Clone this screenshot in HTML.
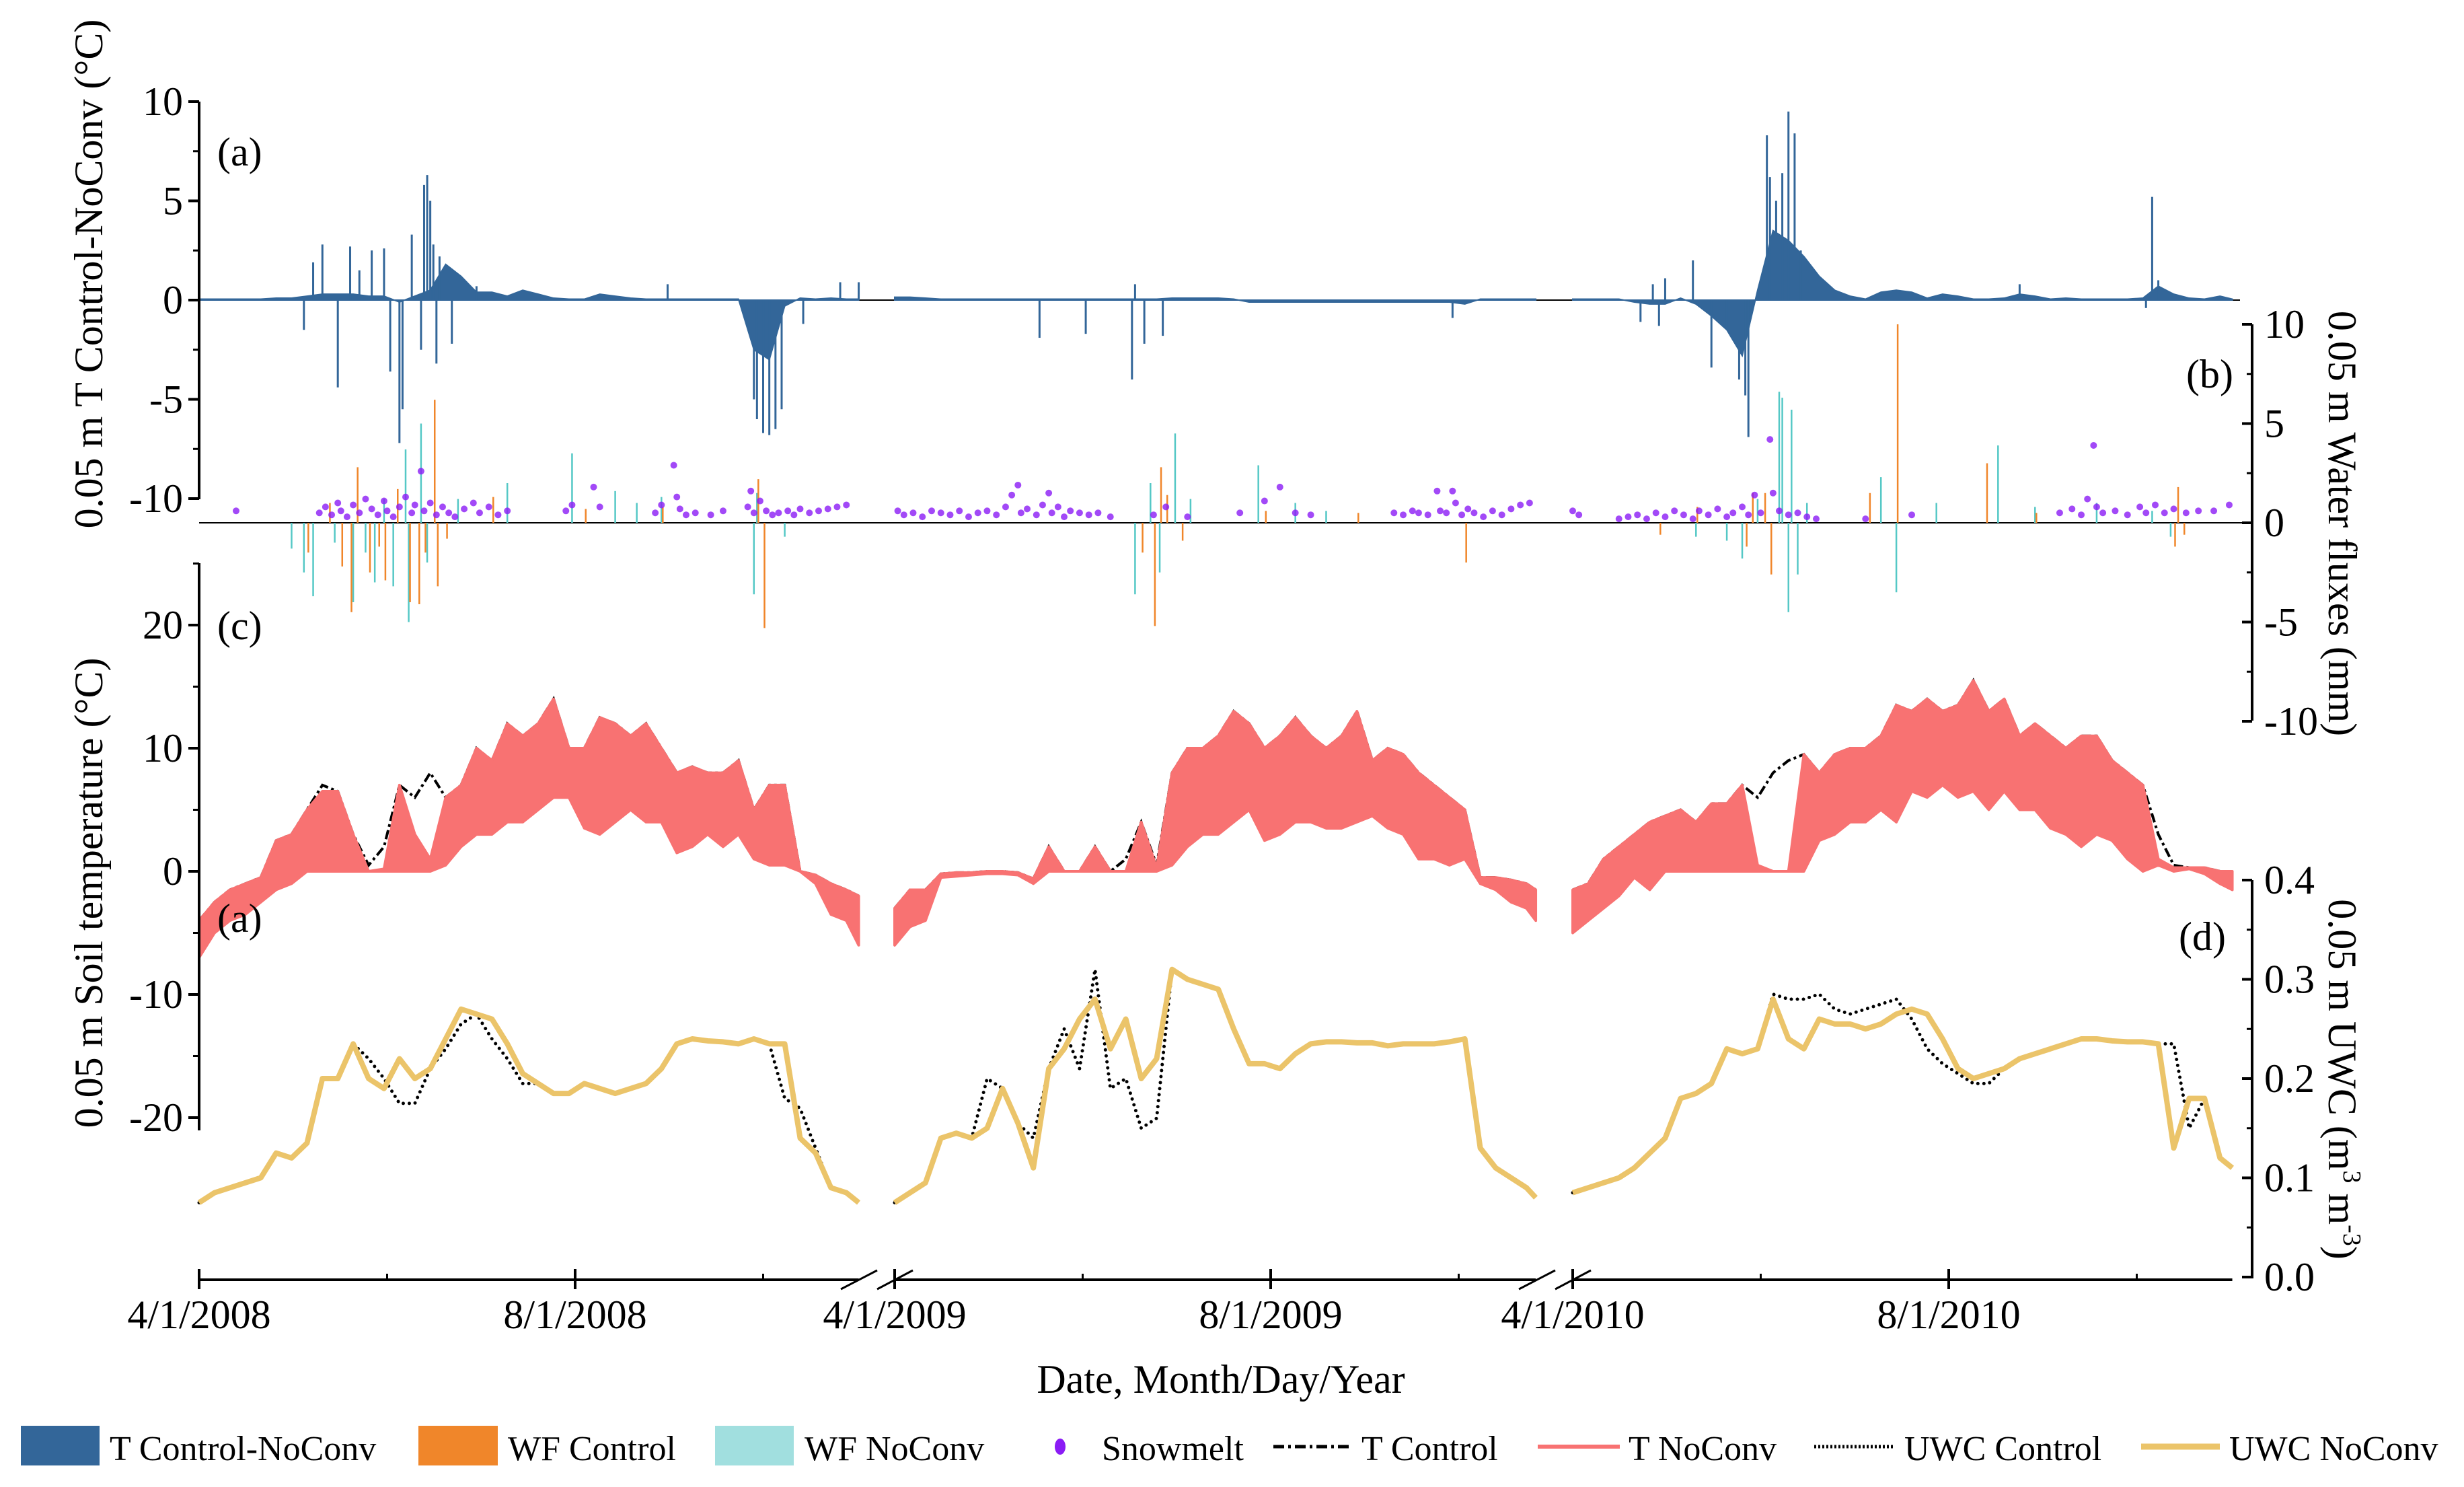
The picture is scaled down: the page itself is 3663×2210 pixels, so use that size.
<!DOCTYPE html>
<html><head><meta charset="utf-8">
<style>
html,body{margin:0;padding:0;background:#fff;}
svg{display:block;}
svg text{font-family:"Liberation Serif","DejaVu Serif",serif;}
</style></head>
<body>
<svg id="chart" xmlns="http://www.w3.org/2000/svg" width="3663" height="2210" viewBox="0 0 3663 2210" font-family="Liberation Serif, serif">
<rect x="0" y="0" width="3663" height="2210" fill="#fff"/>
<g id="marks"></g>
<g id="axes" stroke="#000" stroke-width="4" fill="none"></g>
<g id="labels" font-size="60" fill="#000"></g>
<text x="323" y="246" font-size="60">(a)</text>
<text x="3250" y="576" font-size="60">(b)</text>
<text x="323" y="950" font-size="60">(c)</text>
<text x="323" y="1385" font-size="60">(a)</text>
<text x="3239" y="1412" font-size="60">(d)</text>
<text transform="translate(152,407) rotate(-90)" text-anchor="middle" font-size="60">0.05 m T Control-NoConv (°C)</text>
<text transform="translate(152,1327) rotate(-90)" text-anchor="middle" font-size="60">0.05 m Soil temperature (°C)</text>
<text transform="translate(3462,778) rotate(90)" text-anchor="middle" font-size="60">0.05 m Water fluxes (mm)</text>
<text transform="translate(3462,1604) rotate(90)" text-anchor="middle" font-size="60">0.05 m UWC (m<tspan dy="-22" font-size="38">3</tspan><tspan dy="22"> m</tspan><tspan dy="-22" font-size="38">-3</tspan><tspan dy="22">)</tspan></text>
<text x="1815" y="2070" text-anchor="middle" font-size="60">Date, Month/Day/Year</text>
<g font-size="52">
 <g><rect x="31" y="2119" width="117" height="59" fill="#336699"/><text x="163" y="2170">T Control-NoConv</text></g>
 <g><rect x="622" y="2119" width="118" height="59" fill="#f0862a"/><text x="755" y="2170">WF Control</text></g>
 <g><rect x="1063" y="2119" width="117" height="59" fill="#a1dfdf"/><text x="1196" y="2170">WF NoConv</text></g>
 <g><ellipse cx="1576" cy="2150" rx="8" ry="12" fill="#8b1cf5"/><text x="1638" y="2170">Snowmelt</text></g>
 <g><line x1="1893" y1="2150" x2="2010" y2="2150" stroke="#000" stroke-width="5" stroke-dasharray="16 6 4 6"/><text x="2024" y="2170">T Control</text></g>
 <g><line x1="2286" y1="2150" x2="2408" y2="2150" stroke="#f87272" stroke-width="6"/><text x="2421" y="2170">T NoConv</text></g>
 <g><line x1="2697" y1="2150" x2="2817" y2="2150" stroke="#000" stroke-width="5" stroke-dasharray="3 3"/><text x="2831" y="2170">UWC Control</text></g>
 <g><line x1="3183" y1="2150" x2="3300" y2="2150" stroke="#ebc46a" stroke-width="9"/><text x="3314" y="2170">UWC NoConv</text></g>
</g>
</svg>
<script>
// ---------- DATA ----------
const days08=[0,5,10,15,20,25,30,35,40,45,50,55,60,65,70,75,80,85,90,95,100,105,110,115,120,125,130,135,140,145,150,155,160,165,170,175,180,185,190,195,200,205,210,214];
const days09=[0,5,10,15,20,25,30,35,40,45,50,55,60,65,70,75,80,85,90,95,100,105,110,115,120,125,130,135,140,145,150,155,160,165,170,175,180,185,190,195,200,205,208];
const days10=[0,5,10,15,20,25,30,35,40,45,50,55,60,65,70,75,80,85,90,95,100,105,110,115,120,125,130,135,140,145,150,155,160,165,170,175,180,185,190,195,200,205,210,214];
const xTickLabels=["4/1/2008","8/1/2008","4/1/2009","8/1/2009","4/1/2010","8/1/2010"];
const diffTicks=[10,5,0,-5,-10];
const fluxTicks=[10,5,0,-5,-10];
const tempTicks=[20,10,0,-10,-20];
const uwcTicks=[0.4,0.3,0.2,0.1,0.0];

const tMax08=[-4,-2.5,-1.5,-1,-0.5,2.5,3,5,6.5,6.5,3,0,0.2,7,3,1,6,7,10,9,12,11,12,14,10,10,12.5,12,11,12,10,8,8.5,8,8,9,5,7,7,0,-0.3,-1,-1.5,-2];
const tMin08=[-7,-5,-4,-3.5,-2.5,-1.5,-1,0,0,0,0,0,0,0,0,0,0.5,2,3,3,4,4,5,6,6,3.5,3,4,5,4,4,1.5,2,3,2,3,1,0.5,0.5,0,-1,-3.5,-4,-6];
const tCtrlMax08=[-4,-2.5,-1.5,-1,-0.5,2.5,3,5,7,6.5,3,0.5,2,7,6,8,6,7,10,9,12,11,12,14,10,10,12.5,12,11,12,10,8,8.5,8,8,9,5,7,7,0,-0.3,-1,-1.5,-2];
const tMax09=[-3,-1.5,-1.5,-0.2,-0.1,-0.1,0,0,-0.1,-0.6,2,0,0,2,0,0,4,0.3,8,10,10,11,13,12,10,11,12.5,11,10,11,13,9,10,9.5,8,7,6,5,-0.5,-0.5,-0.7,-1,-1.5];
const tMin09=[-6,-4.5,-4,-0.5,-0.4,-0.3,-0.2,-0.2,-0.3,-1,0,0,0,0,0,0,0,0,0.5,2,3,3,4,5,2.5,3,4,4,3.5,3.5,4,4.5,3.5,3,1,1,0.5,1,-1,-1.5,-2.5,-3,-4];
const tCtrlMax09=[-3,-1.5,-1.5,-0.2,-0.1,-0.1,0,0,-0.1,-0.6,2,0,0,2,0,1,4,0.5,8,10,10,11,13,12,10,11,12.5,11,10,11,13,9,10,9.5,8,7,6,5,-0.5,-0.5,-0.7,-1,-1.5];
const tMax10=[-1.5,-1,1,2,3,4,4.5,5,4,5.5,5.5,7,0.5,0,0,9.5,8,9.5,10,10,11,13.5,13,14,13,13.5,15.5,13,14,11,12,11,10,11,11,9,8,7,1,0.3,0.3,0.3,0,0];
const tMin10=[-5,-4,-3,-2,-0.5,-1.5,0,0,0,0,0,0,0,0,0,0,2.5,3,4,4,5,4,6.5,6,7,6,6.5,5,6.5,5,5,3.5,3,2,3,2.5,1,0,0.5,0,0.2,-0.2,-1,-1.5];
const tCtrlMax10=[-1.5,-1,1,2,3,4,4.5,5,4,5.5,5.5,7,6,8,9,9.5,8,9.5,10,10,11,13.5,13,14,13,13.5,15.5,13,14,11,12,11,10,11,11,9,8,7,3,0.5,0.3,0.3,0,0];

const uwcNo08=[0.075,0.085,0.09,0.095,0.10,0.125,0.12,0.135,0.20,0.20,0.235,0.20,0.19,0.22,0.20,0.21,0.24,0.27,0.265,0.26,0.235,0.205,0.195,0.185,0.185,0.195,0.19,0.185,0.19,0.195,0.21,0.235,0.24,0.238,0.237,0.235,0.24,0.235,0.235,0.14,0.125,0.09,0.085,0.075];
const uwcCtrl08=[0.075,0.085,0.09,0.095,0.10,0.125,0.12,0.135,0.20,0.20,0.235,0.22,0.20,0.175,0.175,0.21,0.23,0.255,0.265,0.24,0.22,0.195,0.195,0.185,0.185,0.195,0.19,0.185,0.19,0.195,0.21,0.235,0.24,0.238,0.237,0.235,0.24,0.235,0.18,0.17,0.13,0.09,0.085,0.075];
const uwcNo09=[0.075,0.085,0.095,0.14,0.145,0.14,0.15,0.19,0.155,0.11,0.21,0.23,0.26,0.28,0.23,0.26,0.2,0.22,0.31,0.30,0.295,0.29,0.25,0.215,0.215,0.21,0.225,0.235,0.237,0.237,0.236,0.236,0.233,0.235,0.235,0.235,0.237,0.24,0.13,0.11,0.10,0.09,0.08];
const uwcCtrl09=[0.075,0.085,0.095,0.14,0.145,0.14,0.20,0.19,0.155,0.14,0.21,0.25,0.21,0.31,0.19,0.20,0.15,0.16,0.31,0.30,0.295,0.29,0.25,0.215,0.215,0.21,0.225,0.235,0.237,0.237,0.236,0.236,0.233,0.235,0.235,0.235,0.237,0.24,0.13,0.11,0.10,0.09,0.08];
const uwcNo10=[0.085,0.09,0.095,0.10,0.11,0.125,0.14,0.18,0.185,0.195,0.23,0.225,0.23,0.28,0.24,0.23,0.26,0.255,0.255,0.25,0.255,0.265,0.27,0.265,0.24,0.21,0.20,0.205,0.21,0.22,0.225,0.23,0.235,0.24,0.24,0.238,0.237,0.237,0.235,0.13,0.18,0.18,0.12,0.11];
const uwcCtrl10=[0.085,0.09,0.095,0.10,0.11,0.125,0.14,0.18,0.185,0.195,0.23,0.225,0.23,0.285,0.28,0.28,0.285,0.27,0.265,0.27,0.275,0.28,0.26,0.23,0.215,0.205,0.195,0.195,0.21,0.22,0.225,0.23,0.235,0.24,0.24,0.238,0.237,0.237,0.235,0.235,0.15,0.18,0.12,0.11];

const diffBase08=[0.05,0.05,0.05,0.05,0.05,0.1,0.1,0.2,0.3,0.3,0.3,0.2,0.2,-0.1,0.2,0.5,1.8,1.2,0.4,0.4,0.2,0.5,0.3,0.1,0.05,0.05,0.3,0.2,0.1,0.05,0.05,0.05,0.05,0.05,0.05,0.05,-2.5,-3,-0.3,0.1,0.05,0.1,0.05,0.05];
const diffBase09=[0.15,0.15,0.1,0.05,0.05,0.05,0.05,0.05,0.05,0.05,0.05,0.05,0.05,0.05,0.05,0.05,0.05,0.05,0.1,0.1,0.1,0.1,0.05,-0.1,-0.1,-0.1,-0.1,-0.1,-0.1,-0.1,-0.1,-0.1,-0.1,-0.1,-0.1,-0.1,-0.1,-0.2,0.05,0.05,0.05,0.05,0.05];
const diffBase10=[0.05,0.05,0.05,0.05,-0.1,-0.2,-0.2,0.1,-0.2,-0.8,-1.5,-2.8,0.5,3.5,3,2.2,1.2,0.5,0.2,0.05,0.4,0.5,0.4,0.1,0.3,0.2,0.05,0.05,0.1,0.3,0.2,0.05,0.1,0.05,0.05,0.05,0.05,0.1,0.7,0.3,0.1,0.05,0.2,0.05];
const diffSpikes=[[0,34,-1.5],[0,37,1.9],[0,40,2.8],[0,45,-4.4],[0,49,2.7],[0,52,1.5],[0,56,2.5],[0,60,2.6],[0,62,-3.6],[0,65,-7.2],[0,66,-5.5],[0,69,3.3],[0,72,-2.5],[0,73,5.8],[0,74,6.3],[0,75,5.0],[0,76,2.8],[0,77,-3.2],[0,78,2.2],[0,80,1.5],[0,82,-2.2],[0,90,0.7],[0,152,0.8],[0,180,-5.0],[0,181,-6.0],[0,183,-6.7],[0,185,-6.8],[0,187,-6.5],[0,189,-5.5],[0,196,-1.2],[0,208,0.9],[0,214,0.9],
[1,47,-1.9],[1,62,-1.7],[1,77,-4.0],[1,78,0.8],[1,81,-2.2],[1,87,-1.8],[1,181,-0.9],
[2,22,-1.1],[2,26,0.8],[2,28,-1.3],[2,30,1.1],[2,39,2.0],[2,45,-3.4],[2,50,-1.4],[2,54,-4.0],[2,56,-4.8],[2,57,-6.9],[2,63,8.3],[2,64,6.2],[2,66,5.0],[2,68,6.4],[2,70,9.5],[2,72,8.4],[2,74,2.5],[2,145,0.8],[2,186,-0.4],[2,188,5.2],[2,190,1.0]];

const wfCtrl=[[0,35,-1.5],[0,42,1.0],[0,46,-2.2],[0,49,-4.5],[0,51,2.8],[0,55,-2.5],[0,58,-1.2],[0,60,-2.9],[0,64,1.7],[0,68,-4.0],[0,71,-4.1],[0,73,-1.5],[0,76,6.2],[0,77,-3.2],[0,80,-0.8],[0,95,1.3],[0,125,0.7],[0,150,0.8],[0,181,2.2],[0,183,-5.3],
[1,80,-1.5],[1,84,-5.2],[1,86,2.8],[1,88,1.4],[1,93,-0.9],[1,120,0.6],[1,150,0.5],[1,185,-2.0],
[2,28,-0.6],[2,40,0.8],[2,56,-1.2],[2,58,1.5],[2,62,1.5],[2,64,-2.6],[2,96,1.5],[2,105,10],[2,134,3.0],[2,150,0.5],[2,195,-1.2],[2,196,1.8],[2,198,-0.6]];
const wfNo=[[0,30,-1.3],[0,34,-2.5],[0,37,-3.7],[0,44,-1.0],[0,50,-4.0],[0,54,-1.5],[0,57,-3.0],[0,60,1.2],[0,63,-3.2],[0,67,3.7],[0,68,-5.0],[0,72,5.0],[0,74,-2.0],[0,84,1.2],[0,100,2.0],[0,121,3.5],[0,135,1.6],[0,142,1.0],[0,150,1.3],[0,180,-3.6],[0,181,1.5],[0,190,-0.7],
[1,78,-3.6],[1,83,2.0],[1,86,-2.5],[1,91,4.5],[1,96,1.2],[1,118,2.9],[1,130,1.0],[1,140,0.6],
[2,40,-0.7],[2,50,-0.9],[2,55,-1.8],[2,60,1.2],[2,67,6.6],[2,68,6.3],[2,70,-4.5],[2,71,5.7],[2,73,-2.6],[2,76,1.0],[2,100,2.3],[2,105,-3.5],[2,118,1.0],[2,138,3.9],[2,150,0.8],[2,170,1.0],[2,188,0.6],[2,194,-0.7]];
const snowmelt=[[0,12,0.6],[0,39,0.5],[0,41,0.8],[0,43,0.4],[0,45,1.0],[0,46,0.6],[0,48,0.3],[0,50,0.9],[0,52,0.5],[0,54,1.2],[0,56,0.7],[0,58,0.4],[0,60,1.1],[0,61,0.6],[0,63,0.3],[0,65,0.8],[0,67,1.3],[0,69,0.5],[0,70,0.9],[0,72,2.6],[0,73,0.6],[0,75,1.0],[0,77,0.4],[0,79,0.8],[0,81,0.5],[0,83,0.3],[0,86,0.7],[0,89,1.0],[0,91,0.5],[0,94,0.8],[0,97,0.4],[0,100,0.6],[0,119,0.6],[0,121,0.9],[0,128,1.8],[0,130,0.8],[0,148,0.5],[0,150,0.9],[0,154,2.9],[0,155,1.3],[0,156,0.7],[0,158,0.4],[0,161,0.5],[0,166,0.4],[0,170,0.6],[0,178,0.8],[0,179,1.6],[0,180,0.5],[0,182,1.1],[0,184,0.6],[0,186,0.4],[0,188,0.5],[0,191,0.6],[0,193,0.4],[0,195,0.7],[0,198,0.5],[0,201,0.6],[0,204,0.7],[0,207,0.8],[0,210,0.9],
[1,1,0.6],[1,3,0.4],[1,6,0.5],[1,9,0.3],[1,12,0.6],[1,15,0.5],[1,18,0.4],[1,21,0.6],[1,24,0.3],[1,27,0.5],[1,30,0.6],[1,33,0.4],[1,36,0.8],[1,38,1.4],[1,40,1.9],[1,41,0.5],[1,43,0.7],[1,46,0.4],[1,48,0.9],[1,50,1.5],[1,51,0.5],[1,53,0.8],[1,55,0.3],[1,57,0.6],[1,60,0.5],[1,63,0.4],[1,66,0.5],[1,70,0.3],[1,84,0.4],[1,88,0.8],[1,95,0.3],[1,112,0.5],[1,120,1.1],[1,125,1.8],[1,130,0.5],[1,135,0.4],[1,162,0.5],[1,165,0.4],[1,168,0.6],[1,170,0.5],[1,173,0.4],[1,176,1.6],[1,177,0.6],[1,179,0.5],[1,181,1.6],[1,182,1.0],[1,184,0.4],[1,186,0.7],[1,188,0.5],[1,191,0.3],[1,194,0.6],[1,197,0.4],[1,200,0.7],[1,203,0.9],[1,206,1.0],
[2,0,0.6],[2,2,0.4],[2,15,0.2],[2,18,0.3],[2,21,0.4],[2,24,0.2],[2,27,0.5],[2,30,0.3],[2,33,0.6],[2,36,0.4],[2,39,0.2],[2,41,0.6],[2,44,0.4],[2,47,0.7],[2,50,0.3],[2,52,0.5],[2,55,0.8],[2,57,0.4],[2,59,1.4],[2,61,0.5],[2,64,4.2],[2,65,1.5],[2,67,0.6],[2,70,0.4],[2,73,0.5],[2,76,0.3],[2,79,0.2],[2,95,0.2],[2,110,0.4],[2,158,0.5],[2,162,0.7],[2,165,0.4],[2,167,1.2],[2,169,3.9],[2,170,0.8],[2,172,0.5],[2,176,0.6],[2,180,0.4],[2,184,0.8],[2,186,0.5],[2,189,0.9],[2,192,0.5],[2,195,0.7],[2,199,0.5],[2,203,0.6],[2,208,0.6],[2,213,0.9]];

// ---------- SCALES ----------
const SEG_X0=[296,1330,2338], PX_DAY=4.582;
function xOf(seg,day){return SEG_X0[seg]+day*PX_DAY;}
function yDiff(v){return 446-v*29.5;}
function yFlux(v){return 777-v*29.5;}
function yTemp(v){return 1295-v*18.3;}
function yUwc(v){return 1898-v*1475;}

const NS="http://www.w3.org/2000/svg";
const marks=document.getElementById('marks');
const axes=document.getElementById('axes');
const labels=document.getElementById('labels');
function mk(tag,attrs,parent){const e=document.createElementNS(NS,tag);for(const k in attrs)e.setAttribute(k,attrs[k]);(parent||marks).appendChild(e);return e;}

const segs=[{d:days08,tMax:tMax08,tMin:tMin08,tC:tCtrlMax08,uN:uwcNo08,uC:uwcCtrl08,dB:diffBase08},
 {d:days09,tMax:tMax09,tMin:tMin09,tC:tCtrlMax09,uN:uwcNo09,uC:uwcCtrl09,dB:diffBase09},
 {d:days10,tMax:tMax10,tMin:tMin10,tC:tCtrlMax10,uN:uwcNo10,uC:uwcCtrl10,dB:diffBase10}];

let zl=mk('line',{x1:296,y1:446,x2:3330,y2:446,stroke:'#000','stroke-width':2});


let zf=mk('line',{x1:296,y1:777,x2:3348,y2:777,stroke:'#000','stroke-width':2});



segs.forEach((s,si)=>{
  let p=`M${xOf(si,s.d[0])},${yDiff(0)}`;
  s.d.forEach((d,i)=>{p+=` L${xOf(si,d)},${yDiff(s.dB[i])}`;});
  p+=` L${xOf(si,s.d[s.d.length-1])},${yDiff(0)} Z`;
  const a=mk('path',{d:p,fill:'#336699',stroke:'#336699','stroke-width':2});
  
  

  // T Control line (dash-dot black, mostly hidden under pink)
  let pc='';
  s.d.forEach((d,i)=>{pc+=(i?' L':'M')+xOf(si,d)+','+yTemp(s.tC[i]);});
  const c=mk('path',{d:pc,fill:'none',stroke:'#000','stroke-width':4,'stroke-dasharray':'14 5 4 5'});
  
  
  let pn='';
  s.d.forEach((d,i)=>{pn+=(i?' L':'M')+xOf(si,d)+','+yTemp(s.tMax[i]);});
  for(let i=s.d.length-1;i>=0;i--)pn+=` L${xOf(si,s.d[i])},${yTemp(s.tMin[i])}`;
  const n=mk('path',{d:pn+' Z',fill:'#f87272',stroke:'#f87272','stroke-width':4,'stroke-linejoin':'round'});
  
  

  let pu='';
  s.d.forEach((d,i)=>{pu+=(i?' L':'M')+xOf(si,d)+','+yUwc(s.uC[i]);});
  const uc=mk('path',{d:pu,fill:'none',stroke:'#000','stroke-width':5,'stroke-dasharray':'0 9','stroke-linecap':'round'});
  
  
  let pv='';
  s.d.forEach((d,i)=>{pv+=(i?' L':'M')+xOf(si,d)+','+yUwc(s.uN[i]);});
  const un=mk('path',{d:pv,fill:'none',stroke:'#ebc46a','stroke-width':8,'stroke-linejoin':'round'});
  
  
});

diffSpikes.forEach(([s,d,v])=>{
  const l=mk('line',{x1:xOf(s,d),y1:yDiff(0),x2:xOf(s,d),y2:yDiff(v),stroke:'#336699','stroke-width':3});
  
  
});
wfNo.forEach(([s,d,v])=>{
  const l=mk('line',{x1:xOf(s,d),y1:yFlux(0),x2:xOf(s,d),y2:yFlux(v),stroke:'#55c8c6','stroke-width':2.5});
  
  
});
wfCtrl.forEach(([s,d,v])=>{
  const l=mk('line',{x1:xOf(s,d)+2,y1:yFlux(0),x2:xOf(s,d)+2,y2:yFlux(v),stroke:'#f0862a','stroke-width':2.5});
  
  
});
snowmelt.forEach(([s,d,v])=>{
  const c=mk('circle',{cx:xOf(s,d),cy:yFlux(v),r:5,fill:'#8b1cf5','fill-opacity':0.8});
  
  
});

// ---------- AXES ----------
function ln(x1,y1,x2,y2,name,w){const l=mk('line',{x1,y1,x2,y2,'stroke-width':w||4},axes);return l;}
function tx(x,y,s,anchor,name){const t=mk('text',{x,y,'text-anchor':anchor},labels);t.textContent=s;return t;}
ln(296,151,296,742,'y-axis-diff');
diffTicks.forEach(v=>{ln(280,yDiff(v),296,yDiff(v),'y-tick-diff');tx(272,yDiff(v)+20,String(v),'end','y-tick-label-diff');});
[7.5,2.5,-2.5,-7.5].forEach(v=>ln(287,yDiff(v),296,yDiff(v),'y-minor-tick-diff',3));
ln(296,837,296,1680,'y-axis-temp');
tempTicks.forEach(v=>{ln(280,yTemp(v),296,yTemp(v),'y-tick-temp');tx(272,yTemp(v)+20,String(v),'end','y-tick-label-temp');});
[25,15,5,-5,-15].forEach(v=>ln(287,yTemp(v),296,yTemp(v),'y-minor-tick-temp',3));
ln(3348,482,3348,1071,'y-axis-flux');
fluxTicks.forEach(v=>{ln(3333,yFlux(v),3348,yFlux(v),'y-tick-flux');tx(3366,yFlux(v)+20,String(v),'start','y-tick-label-flux');});
[7.5,2.5,-2.5,-7.5].forEach(v=>ln(3340,yFlux(v),3348,yFlux(v),'y-minor-tick-flux',3));
ln(3348,1308,3348,1900,'y-axis-uwc');
uwcTicks.forEach(v=>{ln(3333,yUwc(v),3348,yUwc(v),'y-tick-uwc');tx(3366,yUwc(v)+20,v.toFixed(1),'start','y-tick-label-uwc');});
[0.35,0.25,0.15,0.05].forEach(v=>ln(3340,yUwc(v),3348,yUwc(v),'y-minor-tick-uwc',3));
const segEnd=[214,208,214];
[0,1,2].forEach(si=>{
  ln(xOf(si,0),1902,xOf(si,segEnd[si]),1902,'x-axis-segment');
  ln(xOf(si,0),1886,xOf(si,0),1916,'x-tick');
  ln(xOf(si,122),1886,xOf(si,122),1916,'x-tick');
  ln(xOf(si,61),1893,xOf(si,61),1902,'x-minor-tick',3);
  ln(xOf(si,183),1893,xOf(si,183),1902,'x-minor-tick',3);
  tx(xOf(si,0),1974,xTickLabels[si*2],'middle','x-tick-label');
  tx(xOf(si,122),1974,xTickLabels[si*2+1],'middle','x-tick-label');
});
ln(1250,1916,1304,1888,'axis-break-mark',3);ln(1304,1916,1357,1888,'axis-break-mark',3);
ln(2258,1916,2312,1888,'axis-break-mark',3);ln(2312,1916,2365,1888,'axis-break-mark',3);
</script>
</body></html>
